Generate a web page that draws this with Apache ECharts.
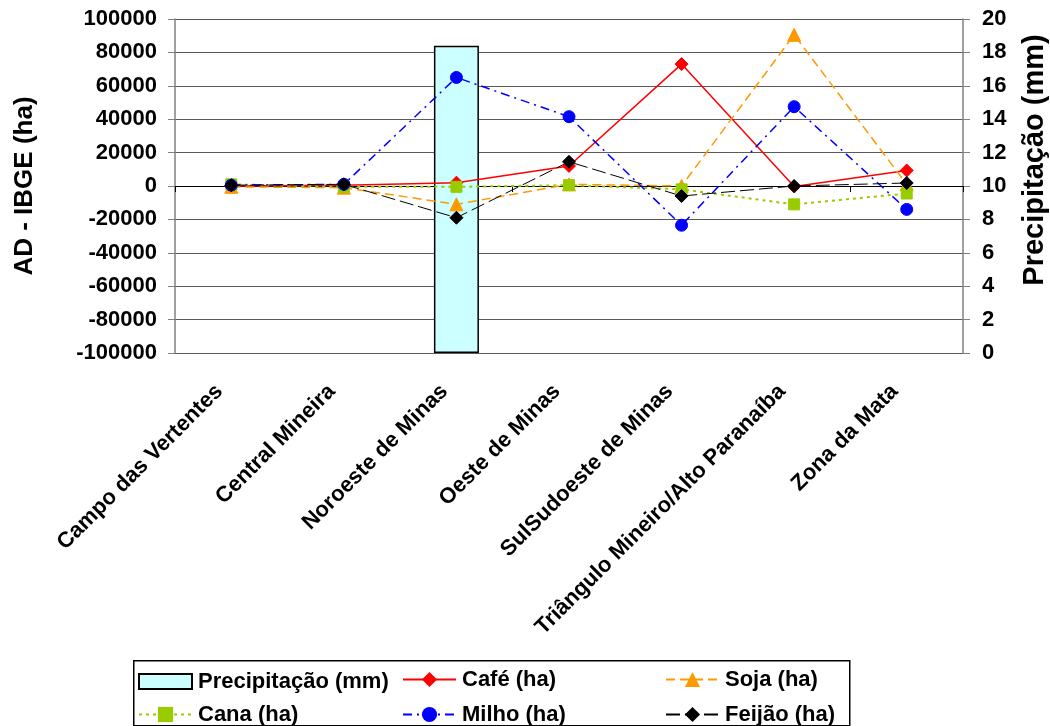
<!DOCTYPE html>
<html>
<head>
<meta charset="utf-8">
<script src="https://cdn.jsdelivr.net/npm/echarts@6/dist/echarts.min.js"></script>
<style>
  html, body { margin: 0; padding: 0; background: #fff; }
  #chart { width: 1050px; height: 726px; }
</style>
</head>
<body>
<div id="chart"></div>
<script>
// Mesorregiões de Minas Gerais
const categories = [
  'Campo das Vertentes',
  'Central Mineira',
  'Noroeste de Minas',
  'Oeste de Minas',
  'SulSudoeste de Minas',
  'Triângulo Mineiro/Alto Paranaíba',
  'Zona da Mata'
];

// Precipitação (mm) — eixo direito
const precipitacao = [null, null, 18.4, null, null, null, null];

// Diferença AD - IBGE (ha) por cultura — eixo esquerdo
const cafe   = [0,    500,   2000, 12000,  73000,  -300,   9300];
const soja   = [-500, -1000, -11000, 1000,  0,     90500,  1000];
const cana   = [1000, -500,  -500,   500,  -2000, -11000, -4500];
const milho  = [500,  1000,  65000, 41500, -23500, 47500, -14000];
const feijao = [500,  1000, -19000, 14500, -6000,   0,     1800];

const leftTicks = { min: -100000, max: 100000, interval: 20000 };
const rightTicks = { min: 0, max: 20, interval: 2 };

const FONT = '"Liberation Sans", Arial, sans-serif';
const GRID = '#5a5a5a';

const chart = echarts.init(document.getElementById('chart'), null, { renderer: 'canvas' });

function lineSeries(name, data, color, dash, symbol, size, width) {
  return {
    name, type: 'line', data, yAxisIndex: 0, xAxisIndex: 0,
    symbol, symbolSize: size, showSymbol: true,
    lineStyle: { color, width, type: dash },
    itemStyle: { color, borderColor: color },
    emphasis: { disabled: true },
    z: 3
  };
}

const legendFont = { fontFamily: FONT, fontWeight: 'bold', fontSize: 22, color: '#000', padding: [0, 0, 0, 1] };
function legendAt(name, left, centerY, itemHeight, icon) {
  return {
    data: [icon ? { name, icon } : name], left, top: centerY - itemHeight / 2, padding: 0, itemGap: 0,
    itemWidth: 53, itemHeight, textStyle: legendFont, selectedMode: false
  };
}

chart.setOption({
  animation: false,
  backgroundColor: '#fff',
  grid: { left: 175, right: 87, top: 19, height: 334, containLabel: false, outerBoundsMode: 'none' },
  xAxis: [
    {
      type: 'category', data: categories, position: 'bottom',
      axisLine: { show: false, onZero: false },
      axisTick: { show: false },
      splitLine: { show: false },
      axisLabel: {
        interval: 0, rotate: 45, margin: 23, padding: [0, 17, 0, 0],
        fontFamily: FONT, fontWeight: 'bold', fontSize: 22, color: '#000'
      }
    },
    {
      type: 'category', data: categories, position: 'bottom',
      axisLine: { show: true, onZero: true, onZeroAxisIndex: 0, lineStyle: { color: '#000', width: 1 } },
      axisTick: { show: true, inside: false, length: 6, alignWithLabel: false, lineStyle: { color: '#000' } },
      axisLabel: { show: false },
      splitLine: { show: false }
    }
  ],
  yAxis: [
    {
      type: 'value', position: 'left',
      min: leftTicks.min, max: leftTicks.max, interval: leftTicks.interval,
      name: 'AD - IBGE (ha)', nameLocation: 'middle', nameGap: 137, nameRotate: 90,
      nameTextStyle: { fontFamily: FONT, fontWeight: 'bold', fontSize: 26, color: '#000' },
      axisLine: { show: true, lineStyle: { color: '#808080', width: 1.5 } },
      axisTick: { show: true, length: 7, lineStyle: { color: '#808080' } },
      axisLabel: {
        margin: 18, fontFamily: FONT, fontWeight: 'bold', fontSize: 22, color: '#000',
        formatter: v => String(v)
      },
      splitLine: { show: true, lineStyle: { color: GRID, width: 1 } }
    },
    {
      type: 'value', position: 'right',
      min: rightTicks.min, max: rightTicks.max, interval: rightTicks.interval,
      name: 'Precipitação (mm)', nameLocation: 'middle', nameGap: 57, nameRotate: 90,
      nameTextStyle: { fontFamily: FONT, fontWeight: 'bold', fontSize: 29, color: '#000', padding: [0, 0, 0, 52] },
      axisLine: { show: true, lineStyle: { color: '#808080', width: 1.5 } },
      axisTick: { show: true, length: 7, lineStyle: { color: '#808080' } },
      axisLabel: {
        margin: 19, fontFamily: FONT, fontWeight: 'bold', fontSize: 22, color: '#000',
        formatter: v => String(v)
      },
      splitLine: { show: false }
    }
  ],
  legend: [
    legendAt('Precipitação (mm)', 138, 678, 15, 'rect'),
    legendAt('Café (ha)', 402, 678, 19),
    legendAt('Soja (ha)', 665, 678, 19),
    legendAt('Cana (ha)', 138, 713, 19),
    legendAt('Milho (ha)', 402, 713, 19),
    legendAt('Feijão (ha)', 665, 713, 19)
  ],
  graphic: [
    {
      type: 'rect', left: 133, top: 660, z: -1,
      shape: { width: 716, height: 65 },
      style: { fill: '#fff', stroke: '#000', lineWidth: 1.5 }
    }
  ],
  series: [
    {
      name: 'Precipitação (mm)', type: 'bar', data: precipitacao,
      xAxisIndex: 0, yAxisIndex: 1, barWidth: 45,
      itemStyle: { color: '#CCFFFF', borderColor: '#000', borderWidth: 1.5 },
      emphasis: { disabled: true }, z: 1
    },
    lineSeries('Café (ha)', cafe, '#FF0000', 'solid', 'diamond', 13, 1.5),
    lineSeries('Soja (ha)', soja, '#FF9900', [9, 5], 'triangle', 13, 1.5),
    lineSeries('Cana (ha)', cana, '#99CC00', [3, 4], 'rect', 11, 2),
    lineSeries('Milho (ha)', milho, '#0000FF', [9, 5, 2, 5], 'circle', 12, 1.5),
    lineSeries('Feijão (ha)', feijao, '#000000', [14, 5], 'diamond', 13, 1)
  ]
});
</script>
</body>
</html>
